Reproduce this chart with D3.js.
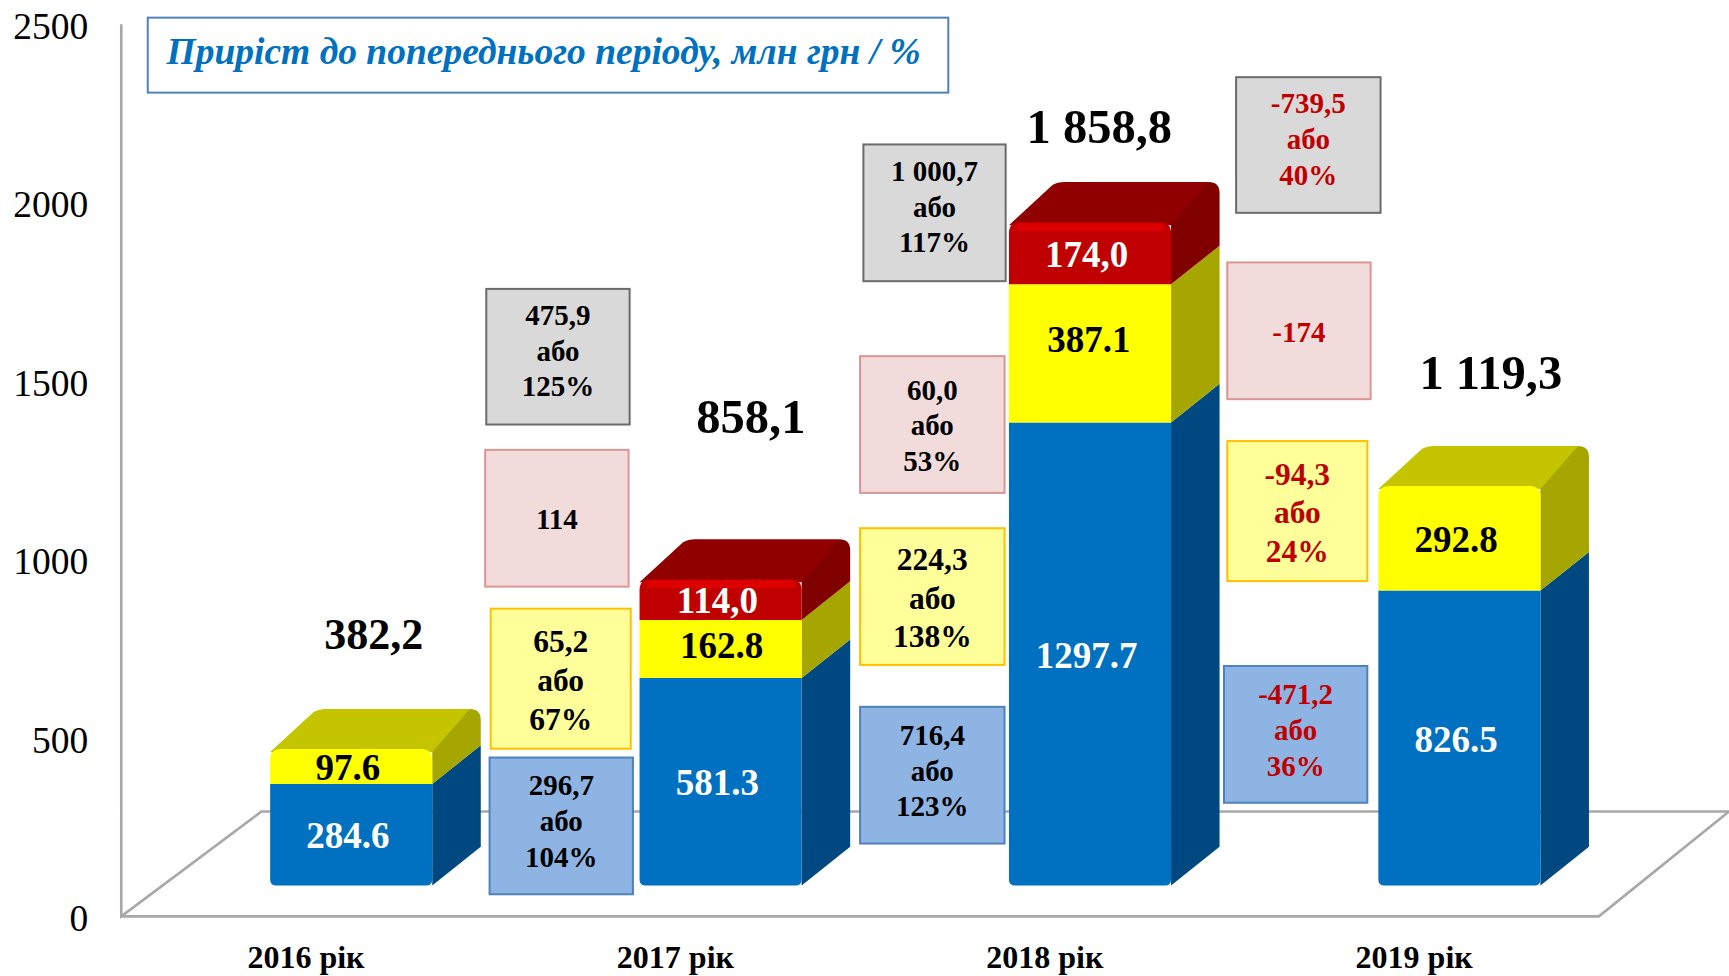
<!DOCTYPE html>
<html>
<head>
<meta charset="utf-8">
<style>
  html, body { margin:0; padding:0; background:#fff; }
  svg { display:block; }
  text { font-family:'Liberation Serif', serif; }
</style>
<script src="https://cdn.jsdelivr.net/npm/d3@7"></script>
</head>
<body>
<div id="plot"></div>
<script>
var years = ['2016 рік', '2017 рік', '2018 рік', '2019 рік'];
var ticks = [0, 500, 1000, 1500, 2000, 2500];

var blue = [284.6, 581.3, 1297.7, 826.5];
var yellow = [97.6, 162.8, 387.1, 292.8];
var red = [0, 114.0, 174.0, 0];

var blue_labels = ['284.6', '581.3', '1297.7', '826.5'];
var yellow_labels = ['97.6', '162.8', '387.1', '292.8'];
var red_labels = ['', '114,0', '174,0', ''];
var total_labels = ['382,2', '858,1', '1 858,8', '1 119,3'];

var title = 'Приріст до попереднього періоду, млн грн / %';

// change to the previous year, one list per colour of box
var grey_notes = [['475,9', 'або', '125%'], ['1 000,7', 'або', '117%'], ['-739,5', 'або', '40%']];
var pink_notes = [['114'], ['60,0', 'або', '53%'], ['-174']];
var yellow_notes = [['65,2', 'або', '67%'], ['224,3', 'або', '138%'], ['-94,3', 'або', '24%']];
var blue_notes = [['296,7', 'або', '104%'], ['716,4', 'або', '123%'], ['-471,2', 'або', '36%']];

var w = 1729, h = 976;

var chart = {};

// layout was measured on the 1568 wide copy of the picture
chart.k = w / 1568;

chart.box_layout = {
  grey: [[441, 262, 130, 123], [783, 131, 129, 124], [1121, 70, 131, 123]],
  pink: [[440, 408, 130, 124], [780, 323, 131, 124], [1113, 238, 130, 124]],
  yellow: [[445, 552, 127, 127], [780, 479, 131, 124], [1113, 400, 127, 127]],
  blue: [[444, 687, 130, 124], [780, 641, 131, 124], [1110, 604, 130, 124]]
};

chart.box_style = {
  grey: {fill:'#d9d9d9', stroke:'#6b6b6b', size:29, lead:35.8, shift:-6},
  pink: {fill:'#f2dcdb', stroke:'#d99694', size:29, lead:35.3, shift:1},
  yellow: {fill:'#ffff99', stroke:'#ffc000', size:31.5, lead:38.6, shift:1.5},
  blue: {fill:'#8eb4e3', stroke:'#4f81bd', size:29, lead:35.8, shift:-4.5}
};

chart.total_pos = [[339, 575], [681, 378], [997, 115], [1352, 338]];

chart.colors = [
  {key:'blue', front:'#0070c0', side:'#004a80', top:'#005a9a', text:'#fff'},
  {key:'yellow', front:'#ffff00', side:'#a6a600', top:'#c4c400', text:'#000'},
  {key:'red', front:'#c00000', side:'#800000', top:'#910000', text:'#fff'}
];

// a couple of labels do not sit in the middle of their piece
chart.label_nudge = {
  yellow: [[0, 0], [4, -4], [2, -14], [0, 0]]
};

chart.draw_axes = function(svg) {

  var k = chart.k;
  var x0 = chart.xscale.range()[0], x1 = chart.xscale.range()[1];
  var y0 = chart.yscale(0), y1 = chart.yscale(2500);
  var fx = 127*k, fy = 95*k;

  // back and side of the floor first, the bars stand on it
  var line = d3.line();
  var floor = [
    [[x0, y1], [x0, y0], [x0+fx, y0-fy], [w, y0-fy]],
    [[x0, y0], [x1, y0], [w, y0-fy]]
  ];

  svg.append('g').attr('filter', 'url(#soft)')
    .selectAll('path').data(floor).enter().append('path')
    .attr('d', line)
    .attr('fill', 'none')
    .attr('stroke', '#a8a8a8')
    .attr('stroke-width', 2.6);

  var yaxis = d3.axisLeft(chart.yscale).tickValues(ticks).tickSize(0).tickPadding(33)
    .tickFormat(d3.format('d'));
  var gy = svg.append('g')
    .attr('transform', 'translate('+x0+',0)')
    .call(yaxis);
  gy.select('.domain').remove();
  gy.selectAll('text')
    .attr('dy', '.38em')
    .attr('font-size', 37.5)
    .attr('fill', '#000')
    .style('font-family', "'Liberation Serif', serif");

  var xaxis = d3.axisBottom(chart.xscale).tickSize(0).tickPadding(29);
  var gx = svg.append('g')
    .attr('transform', 'translate(0,'+y0+')')
    .call(xaxis);
  gx.select('.domain').remove();
  gx.selectAll('text')
    .attr('font-size', 32)
    .attr('font-weight', 'bold')
    .attr('fill', '#000')
    .style('font-family', "'Liberation Serif', serif");

};

chart.draw_title = function(svg) {

  var k = chart.k;

  svg.append('rect')
    .attr('x', 134*k).attr('y', 16*k)
    .attr('width', 726*k).attr('height', 68*k)
    .attr('fill', '#fff')
    .attr('stroke', '#4f81bd')
    .attr('stroke-width', 2);

  svg.append('text')
    .attr('x', 151*k).attr('y', 58*k)
    .attr('font-size', 37.5)
    .attr('font-weight', 'bold')
    .attr('font-style', 'italic')
    .attr('fill', '#0070c0')
    .text(title);

};

chart.draw_notes = function(svg, name, notes) {

  var k = chart.k;
  var st = chart.box_style[name];
  var text_color = function(i) { return i == 2 ? '#c00000' : '#000'; };

  var g = svg.append('g').selectAll('g').data(notes).enter().append('g')
    .attr('transform', function(d, i) {
      var b = chart.box_layout[name][i];
      return 'translate('+b[0]*k+','+b[1]*k+')';
    });

  g.append('rect')
    .attr('width', function(d, i) { return chart.box_layout[name][i][2]*k; })
    .attr('height', function(d, i) { return chart.box_layout[name][i][3]*k; })
    .attr('fill', st.fill)
    .attr('stroke', st.stroke)
    .attr('stroke-width', 2);

  g.each(function(d, i) {

    var b = chart.box_layout[name][i];

    d3.select(this).selectAll('text').data(d).enter().append('text')
      .attr('x', b[2]*k/2)
      .attr('y', function(t, j) { return b[3]*k/2 + st.shift + (j-(d.length-1)/2)*st.lead; })
      .attr('dy', '.34em')
      .attr('text-anchor', 'middle')
      .attr('font-size', st.size)
      .attr('font-weight', 'bold')
      .attr('fill', text_color(i))
      .text(t => t);

  });

};

// front with round corners, side and top of one piece of a bar
chart.draw_segment = function(g, x, bw, y_top, y_bot, col, is_top, is_bottom) {

  var k = chart.k;
  var dx = 44*k, dy = -35*k;
  var r = is_top ? 11 : 0;
  var rb = is_bottom ? 6 : 0;
  var back = y_top + dy - (is_top ? 1.5 : 0);

  var side = d3.path();
  side.moveTo(x+bw, y_bot);
  side.lineTo(x+bw+dx, y_bot+dy);
  side.lineTo(x+bw+dx, back+r);
  side.quadraticCurveTo(x+bw+dx, back, x+bw+dx-r, back);
  side.lineTo(x+bw-r, y_top+r*0.2);
  side.lineTo(x+bw, y_top);
  side.closePath();

  g.append('path').attr('d', side.toString()).attr('fill', col.side);

  if ( is_top ) {

    var top = d3.path();
    top.moveTo(x, y_top+3);
    top.lineTo(x+dx-5, back+3);
    top.quadraticCurveTo(x+dx, back, x+dx+7, back);
    top.lineTo(x+bw+dx-r, back);
    top.lineTo(x+bw, y_top+3);
    top.closePath();

    g.append('path').attr('d', top.toString()).attr('fill', col.top);

  }

  var front = d3.path();
  front.moveTo(x, y_top+r);
  if ( r ) front.quadraticCurveTo(x, y_top, x+r, y_top);
  front.lineTo(x+bw-r, y_top);
  if ( r ) front.quadraticCurveTo(x+bw, y_top, x+bw, y_top+r);
  front.lineTo(x+bw, y_bot-rb);
  if ( rb ) front.quadraticCurveTo(x+bw, y_bot, x+bw-rb, y_bot);
  front.lineTo(x+rb, y_bot);
  if ( rb ) front.quadraticCurveTo(x, y_bot, x, y_bot-rb);
  front.closePath();

  g.append('path').attr('d', front.toString()).attr('fill', col.front);

  // the red caps have a lighter rim
  if ( is_top && col.key == 'red' ) {
    g.append('rect')
      .attr('x', x+7).attr('y', y_top+1)
      .attr('width', bw-14).attr('height', 8)
      .attr('rx', 4)
      .attr('fill', '#dc0000');
  }

};

chart.draw_bars = function(svg) {

  var k = chart.k;

  var rows = years.map(function(y, i) {
    return {year:y, blue:blue[i], yellow:yellow[i], red:red[i]};
  });

  var stack = d3.stack().keys(['blue', 'yellow', 'red'])(rows);
  var labels = {blue:blue_labels, yellow:yellow_labels, red:red_labels};

  // bars stand in the middle of the floor, not on its front edge
  var lift = 28*k;
  var shift = 135*k;
  var bw = 147*k;

  var g = svg.append('g').attr('transform', 'translate(0,'+(-lift)+')');
  var shapes = g.append('g').attr('filter', 'url(#soft)');

  years.forEach(function(y, i) {

    var x = chart.xscale(y) + shift;
    var top_index = red[i] > 0 ? 2 : 1;

    stack.forEach(function(layer, n) {

      if ( layer[i][1] == layer[i][0] ) return;

      chart.draw_segment(shapes, x, bw,
        chart.yscale(layer[i][1]), chart.yscale(layer[i][0]),
        chart.colors[n], n == top_index, n == 0);

    });

    stack.forEach(function(layer, n) {

      if ( layer[i][1] == layer[i][0] ) return;

      var cy = (chart.yscale(layer[i][1]) + chart.yscale(layer[i][0])) / 2;
      var nudge = chart.label_nudge[layer.key] ? chart.label_nudge[layer.key][i] : [0, 0];

      g.append('text')
        .attr('x', x + bw/2 - 3*k + nudge[0]*k)
        .attr('y', cy + 1*k + nudge[1]*k)
        .attr('dy', '.34em')
        .attr('text-anchor', 'middle')
        .attr('font-size', 37)
        .attr('font-weight', 'bold')
        .attr('fill', chart.colors[n].text)
        .text(labels[layer.key][i]);

    });

  });

};

chart.draw_totals = function(svg) {

  var k = chart.k;

  svg.append('g').selectAll('text').data(total_labels).enter().append('text')
    .attr('x', function(d, i) { return chart.total_pos[i][0]*k; })
    .attr('y', function(d, i) { return chart.total_pos[i][1]*k; })
    .attr('dy', '.34em')
    .attr('text-anchor', 'middle')
    .attr('font-size', function(d, i) { return i == 0 ? 44 : 48.5; })
    .attr('font-weight', 'bold')
    .attr('fill', '#000')
    .text(d => d);

};

chart.init = function() {

  var k = chart.k;

  chart.xscale = d3.scaleBand().domain(years).range([110*k, 1450*k]);
  chart.yscale = d3.scaleLinear().domain([0, 2500]).range([831*k, 22*k]);

  var svg = d3.select('#plot').append('svg')
    .attr('width', w)
    .attr('height', h);

  svg.append('rect').attr('width', w).attr('height', h).attr('fill', '#fff');

  svg.append('defs').append('filter').attr('id', 'soft')
    .append('feGaussianBlur').attr('stdDeviation', 0.7);

  chart.draw_axes(svg);
  chart.draw_bars(svg);

  chart.draw_notes(svg, 'grey', grey_notes);
  chart.draw_notes(svg, 'pink', pink_notes);
  chart.draw_notes(svg, 'yellow', yellow_notes);
  chart.draw_notes(svg, 'blue', blue_notes);

  chart.draw_totals(svg);
  chart.draw_title(svg);

};

chart.init();
</script>
</body>
</html>
